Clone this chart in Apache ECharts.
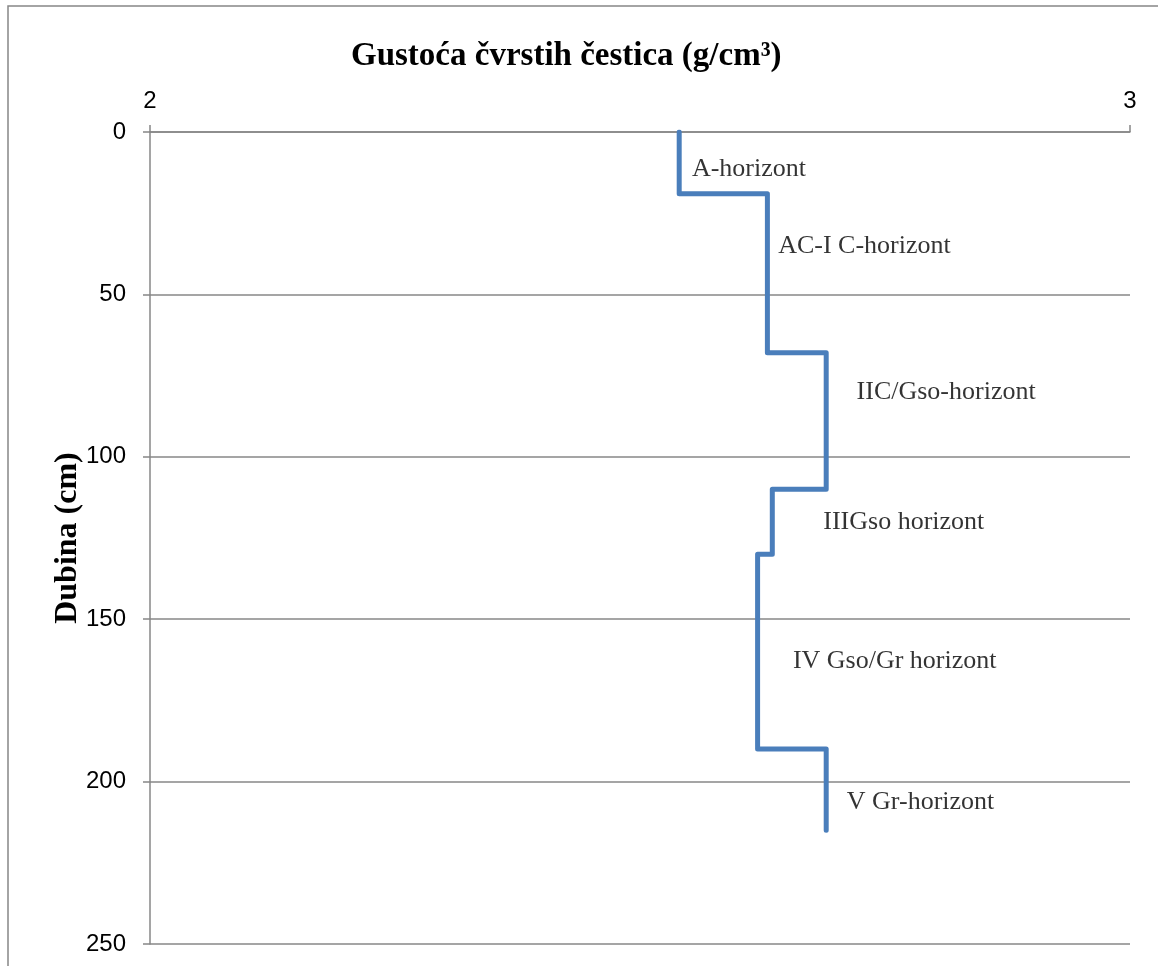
<!DOCTYPE html>
<html>
<head>
<meta charset="utf-8">
<style>
html,body{margin:0;padding:0;background:#fff;}
#chart{width:1158px;height:966px;}
</style>
<script src="https://cdn.jsdelivr.net/npm/echarts@6/dist/echarts.min.js"></script>
</head>
<body>
<div id="chart"></div>
<script>
// Data
const horizonNames = ['A-horizont', 'AC-I C-horizont', 'IIC/Gso-horizont', 'IIIGso horizont', 'IV Gso/Gr horizont', 'V Gr-horizont'];
const depthTop = [0, 19, 68, 110, 130, 190];
const depthBottom = [19, 68, 110, 130, 190, 215];
const density = [2.54, 2.63, 2.69, 2.635, 2.62, 2.69];
// annotation anchor (data coordinates: density, depth)
const labelDensity = [2.553, 2.641, 2.721, 2.687, 2.656, 2.711];
const labelDepth = [11.3, 35.3, 80, 120.2, 162.8, 206.3];
const xTicks = [2, 3];
const yTicks = [0, 50, 100, 150, 200, 250];

const profile = [];
for (let i = 0; i < density.length; i++) {
  profile.push([density[i], depthTop[i]]);
  profile.push([density[i], depthBottom[i]]);
}
const labels = horizonNames.map((n, i) => ({ name: n, value: [labelDensity[i], labelDepth[i]] }));

const gray = '#878787';
const chart = echarts.init(document.getElementById('chart'));
chart.setOption({
  animation: false,
  backgroundColor: '#fff',
  title: {
    text: 'Gustoća čvrstih čestica (g/cm³)',
    left: 346, top: 35,
    textStyle: { fontFamily: 'Liberation Serif', fontWeight: 'bold', fontSize: 33, color: '#000' }
  },
  graphic: [{
    type: 'rect', silent: true,
    shape: { x: 8, y: 6, width: 1300, height: 1100 },
    style: { fill: 'none', stroke: gray, lineWidth: 1.5 }
  }],
  grid: { left: 150, right: 28, top: 132, bottom: 22 },
  xAxis: {
    type: 'value', position: 'top', min: xTicks[0], max: xTicks[xTicks.length - 1], interval: 1,
    axisLine: { show: true, lineStyle: { color: gray, width: 1.5 } },
    axisTick: { show: true, length: 7, lineStyle: { color: gray, width: 1.5 } },
    splitLine: { show: false },
    axisLabel: { margin: 19, color: '#000', fontFamily: 'Liberation Sans', fontSize: 24 }
  },
  yAxis: {
    type: 'value', inverse: true, min: yTicks[0], max: yTicks[yTicks.length - 1], interval: 50,
    name: 'Dubina (cm)', nameLocation: 'middle', nameGap: 66, nameRotate: 90,
    nameMoveOverlap: false,
    nameTextStyle: { fontFamily: 'Liberation Serif', fontWeight: 'bold', fontSize: 32, color: '#000' },
    axisLine: { show: true, lineStyle: { color: gray, width: 1.5 } },
    axisTick: { show: true, length: 7, lineStyle: { color: gray, width: 1.5 } },
    splitLine: { show: true, lineStyle: { color: gray, width: 1.5 } },
    axisLabel: { margin: 24, color: '#000', fontFamily: 'Liberation Sans', fontSize: 24 }
  },
  series: [{
    type: 'line', data: profile, symbol: 'none',
    lineStyle: { color: '#4a7ebb', width: 5, cap: 'round', join: 'round' }
  }, {
    type: 'scatter', data: labels, symbolSize: 0, silent: true,
    label: {
      show: true, position: 'right', distance: 0, formatter: p => p.name,
      fontFamily: 'Liberation Serif', fontSize: 26, color: '#000'
    }
  }]
});
</script>
</body>
</html>
